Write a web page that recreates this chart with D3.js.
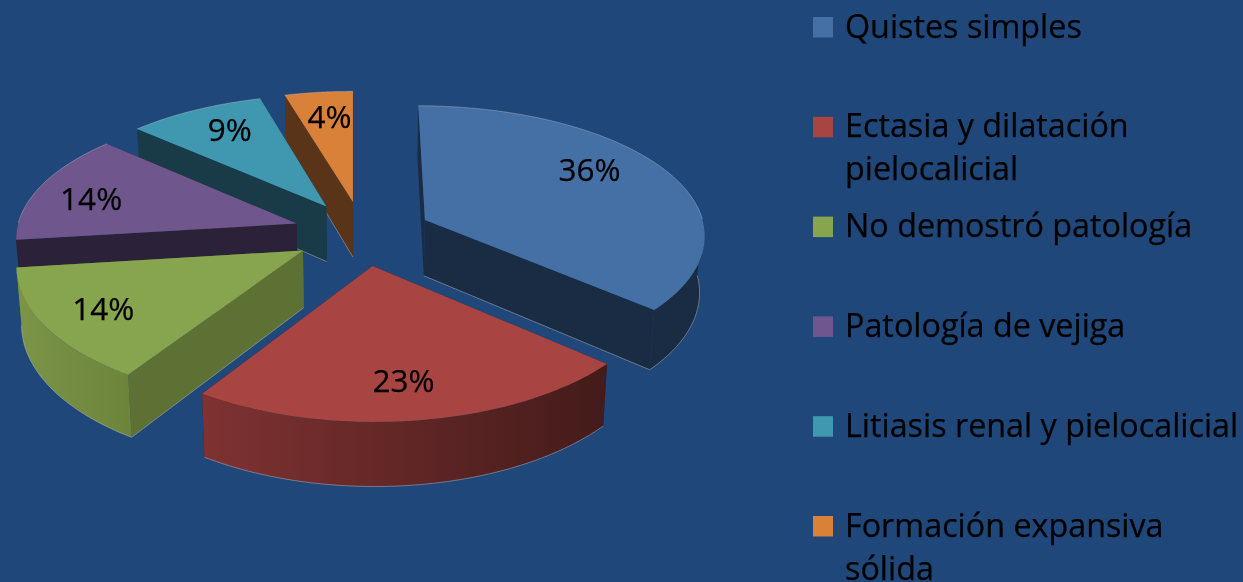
<!DOCTYPE html>
<head>
  <meta charset="utf-8">
  <script src="https://d3js.org/d3.v7.min.js"></script>
  <style>
    body { margin:0;position:fixed;top:0;right:0;bottom:0;left:0;background:#1f477a; }
    text { font-family:"Open Sans",sans-serif;fill:#000;stroke:#000;stroke-width:0.25px; }
  </style>
</head>

<body>

  <script>
    var width = 1243;
    var height = 582;

    // values
    var categories = ["Quistes simples", "Ectasia y dilatación pielocalicial", "No demostró patología",
                      "Patología de vejiga", "Litiasis renal y pielocalicial", "Formación expansiva sólida"];
    var values = [36.4, 22.8, 13.8, 13.7, 8.9, 4.4];
    var legendLines = [["Quistes simples"], ["Ectasia y dilatación", "pielocalicial"], ["No demostró patología"],
                       ["Patología de vejiga"], ["Litiasis renal y pielocalicial"], ["Formación expansiva", "sólida"]];

    var topColors  = ["#4470a6", "#a84543", "#87a44e", "#6f578d", "#4098b0", "#d98039"];
    var wallColors = ["#1a2c44", "#431b1a", "#5e7135", "#2b2138", "#193b47", "#5a3418"];
    var rimFrom    = ["#1a2c44", "#7f3232", "#7c9448", "#2b2138", "#193b47", "#5a3418"];
    var rimTo      = ["#1a2c44", "#431b1a", "#6d853b", "#2b2138", "#193b47", "#5a3418"];

    // label nudges, the original places them by hand
    var labelDx = [-17, -3, -9, -12, 4, 3];
    var labelDy = [-12, 3, 3, 4, -3, -1];

    // perspective of the pie plane
    var cx = 353, horizon = -907, planeDist = 1142, Dy = 2452, Dx = 2750;
    var pieU = 9.5, pieV = -4, radiusU = 281, radiusV = 280, explode = 69.5, depth = 56.5;

    function project(u, v, z){
      var sx = Dx / (Dx - v), sy = Dy / (Dy - v);
      return [cx + u * sx * (1 - 0.015 * z / depth), horizon + planeDist * sy + z * sx];
    }

    var svg = d3.select("body").append("svg")
      .attr("width", width)
      .attr("height", height);

    var defs = svg.append("defs");

    var slices = d3.pie().sort(null)(values);

    var line = d3.line();

    slices.forEach(function(d){
      d.mid = (d.startAngle + d.endAngle) / 2;
      d.apexU = pieU + explode * Math.sin(d.mid);
      d.apexV = pieV - explode * Math.cos(d.mid);
    });

    function rimPoint(d, a, f, z){
      return project(d.apexU + f * radiusU * Math.sin(a), d.apexV - f * radiusV * Math.cos(a), z);
    }

    function angleRange(a0, a1){
      var n = 60, out = [];
      for(var i = 0; i <= n; i++){
        out.push(a0 + (a1 - a0) * i / n);
      }
      return out;
    }

    function paleLine(g, pts, op){
      g.append("path")
        .attr("d", line(pts))
        .attr("fill", "none")
        .attr("stroke", "#c9c9c9")
        .attr("stroke-opacity", op)
        .attr("stroke-width", 0.8);
    }

    var drawOrder = slices.slice().sort(function(a, b){ return d3.ascending(a.apexV, b.apexV); });

    var pieG = svg.append("g").attr("class", "pie");

    drawOrder.forEach(function(d){
      var g = pieG.append("g");
      var i = d.index;
      var apexTop = project(d.apexU, d.apexV, 0);
      var apexBot = project(d.apexU, d.apexV, depth);

      // radial cut faces
      [d.startAngle, d.endAngle].forEach(function(a, k){
        var bot = rimPoint(d, a, 1, depth);
        g.append("path")
          .attr("d", line([apexTop, rimPoint(d, a, 1, 0), bot, apexBot]) + "Z")
          .attr("fill", wallColors[i]);
        // outline only on the face turned to the viewer
        var facing = k === 0 ? -Math.sin(a) > 0 : Math.sin(a) > 0;
        if(facing) paleLine(g, [apexBot, bot], 0.55);
      });

      // outer rim, only the part that faces the viewer
      var lo = Math.max(d.startAngle, Math.PI / 2), hi = Math.min(d.endAngle, 3 * Math.PI / 2);
      if(lo < hi){
        var rimAngles = angleRange(lo, hi);
        var topEdge = rimAngles.map(function(a){ return rimPoint(d, a, 1, 0); });
        var botEdge = rimAngles.map(function(a){ return rimPoint(d, a, 1, depth); });
        var xs = d3.extent(topEdge, function(p){ return p[0]; });
        var gradId = "rim" + i;
        var grad = defs.append("linearGradient").attr("id", gradId)
          .attr("gradientUnits", "userSpaceOnUse")
          .attr("x1", xs[0]).attr("x2", xs[1]).attr("y1", 0).attr("y2", 0);
        grad.append("stop").attr("offset", 0).attr("stop-color", rimFrom[i]);
        grad.append("stop").attr("offset", 1).attr("stop-color", rimTo[i]);
        g.append("path")
          .attr("d", line(topEdge.concat(botEdge.slice().reverse())) + "Z")
          .attr("fill", "url(#" + gradId + ")");
        paleLine(g, botEdge, 0.55);
      }

      // top face
      var faceEdge = angleRange(d.startAngle, d.endAngle).map(function(a){ return rimPoint(d, a, 1, 0); });
      g.append("path")
        .attr("d", line([apexTop].concat(faceEdge)) + "Z")
        .attr("fill", topColors[i]);

      // pale outline on the far side of the top face
      var backAngles = angleRange(d.startAngle, d.endAngle).filter(function(a){ return Math.cos(a) > 0; });
      if(backAngles.length > 1){
        paleLine(g, backAngles.map(function(a){ return rimPoint(d, a, 1, 0); }), 0.45);
      }
    });

    // percent labels
    svg.append("g").selectAll("text")
      .data(slices)
      .enter()
      .append("text")
      .attr("text-anchor", "middle")
      .attr("font-size", 31.5)
      .attr("x", function(d){ return rimPoint(d, d.mid, 0.75, 0)[0] + labelDx[d.index]; })
      .attr("y", function(d){ return rimPoint(d, d.mid, 0.75, 0)[1] + 11 + labelDy[d.index]; })
      .text(function(d){ return Math.round(d.data) + "%"; });

    // legend
    var legendY = d3.scaleLinear().domain([0, 5]).range([17, 516]);

    var legend = svg.append("g").selectAll("g")
      .data(categories)
      .enter()
      .append("g");

    legend.append("rect")
      .attr("x", 813)
      .attr("y", function(d, i){ return legendY(i); })
      .attr("width", 20)
      .attr("height", 20.5)
      .attr("fill", function(d, i){ return topColors[i]; });

    legend.append("text")
      .attr("font-size", 32.3)
      .attr("y", function(d, i){ return legendY(i) + 20.5; })
      .selectAll("tspan")
      .data(function(d, i){ return legendLines[i]; })
      .enter()
      .append("tspan")
      .attr("x", 845)
      .attr("dy", function(d, j){ return j ? 43 : 0; })
      .text(function(d){ return d; });
  </script>
</body>
